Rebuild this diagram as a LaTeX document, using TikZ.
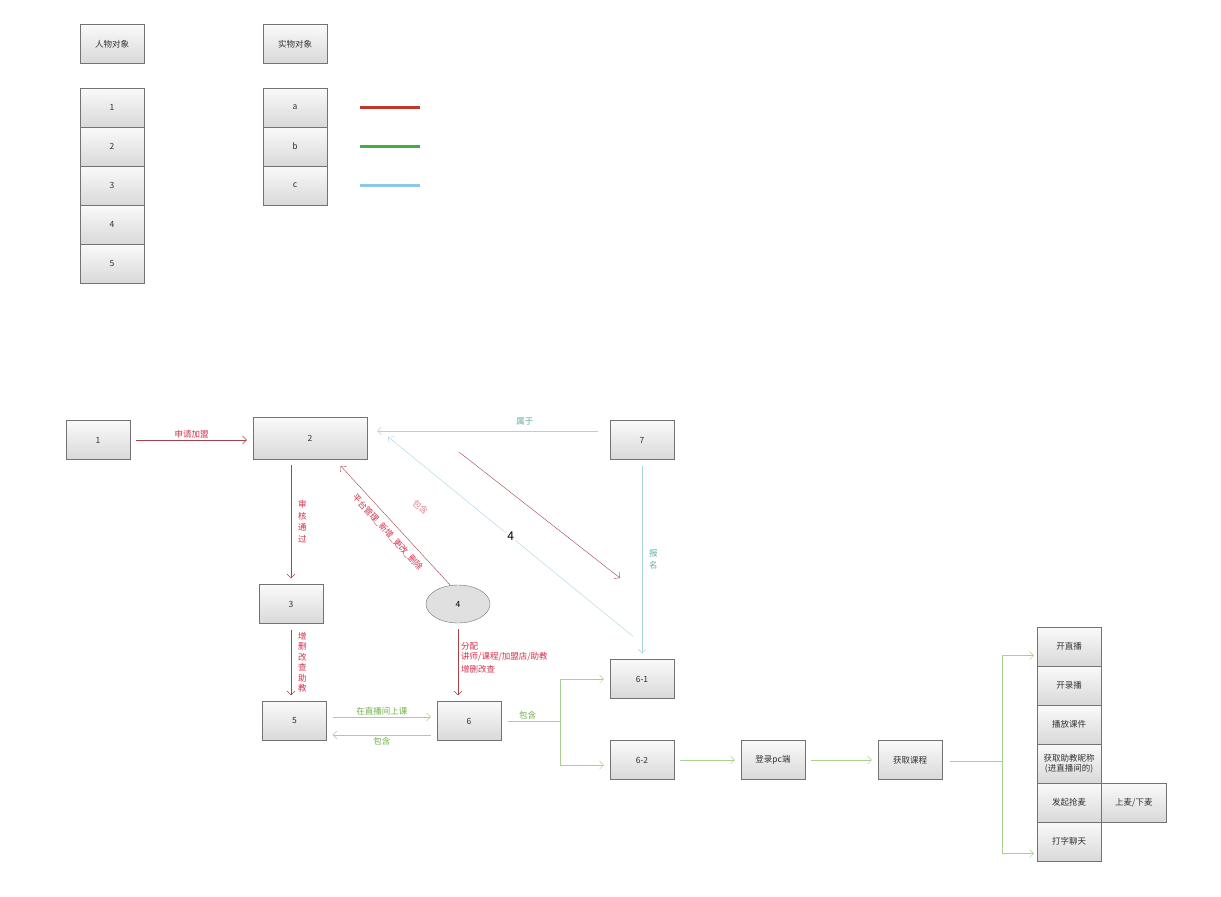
\documentclass[tikz,border=0pt]{standalone}
\usepackage{fontspec}
\setmainfont{Noto Sans CJK SC}
\usetikzlibrary{positioning,shapes.geometric,arrows.meta}
\definecolor{lnred}{HTML}{A5424C}
\definecolor{txred}{HTML}{D4304A}
\definecolor{txpink}{HTML}{D98590}
\definecolor{lngrn}{HTML}{A9D08E}
\definecolor{txgrn}{HTML}{6DB33F}
\definecolor{lnblue}{HTML}{A9D4E6}
\definecolor{txteal}{HTML}{5FAFA5}
\definecolor{legred}{HTML}{C0392B}
\definecolor{leggrn}{HTML}{3CB043}
\definecolor{legblue}{HTML}{8CC8E8}

\begin{document}
\begin{tikzpicture}[
  x=1pt, y=-1pt,
  >={Straight Barb[length=4pt, width=8pt]},
  box/.style={
    draw=black!55, top color=black!2, bottom color=black!15,
    minimum width=64pt, minimum height=39pt,
    inner sep=1pt, text=black!80, align=center,
    font=\fontsize{8.5}{10}\selectfont
  },
  oval/.style={draw=black!55, ellipse, fill=black!12,
    minimum width=64pt, minimum height=38pt, font=\fontsize{8.5}{10}\selectfont},
  lbl/.style={font=\fontsize{8.5}{10}\selectfont, inner sep=2pt},
  vlbl/.style={lbl, align=center, font=\fontsize{8.5}{11.5}\selectfont},
  redarr/.style={->, lnred, shorten <=6pt, shorten >=6pt},
  grnarr/.style={->, lngrn, shorten <=6pt, shorten >=6pt},
  bluarr/.style={->, lnblue, shorten <=6pt, shorten >=6pt}
]
\fill[white] (0,0) rectangle (1221,897);
\useasboundingbox (0,0) rectangle (1221,897);

% --- Legend ---
\node[box] (person) at (112,44) {人物对象};
\node[box] (thing) at (295,44) {实物对象};

\foreach \t [count=\i] in {1,2,3,4,5}
  \node[box] (p\i) at (112,{107.5+39*(\i-1)}) {\t};

\foreach \t [count=\i] in {a,b,c}
  \node[box] (o\i) at (295,{107.5+39*(\i-1)}) {\t};

\draw[line width=3pt, legred] (360,107) -- (420,107);
\draw[line width=3pt, leggrn] (360,146) -- (420,146);
\draw[line width=3pt, legblue] (360,185) -- (420,185);

% --- Flow ---
\node[box] (n1) at (98,440) {1};
\node[box, minimum width=114pt, minimum height=42pt] (n2) at (310,438) {2};
\node[box] (n7) at (642,440) {7};
\node[box] (n3) at (291,604) {3};
\node[oval] (n4) at (458,604) {4};
\node[box] (n5) at (294.5,721) {5};
\node[box] (n6) at (469,721) {6};
\node[box] (n61) at (642,679) {6-1};
\node[box] (n62) at (642,760) {6-2};
\node[box] (login) at (773,760) {登录pc端};
\node[box] (getc) at (910,760) {获取课程};

\foreach \t [count=\i] in {开直播,开录播,播放课件,{获取助教昵称\\(进直播间的)},发起抢麦,打字聊天}
  \node[box] (r\i) at (1069,{646.5+39*(\i-1)}) {\t};
\node[box, minimum width=65pt, right=0pt of r5] (mic) {上麦/下麦};

\coordinate (sp6) at (560,721);
\coordinate (spg) at (1002,761);
\coordinate (ra) at (459,452);
\coordinate (rb) at (620,578);

% red
\draw[redarr] (n1.east) -- node[lbl, above, text=txred] {申请加盟} (n1.east -| n2.west);
\draw[redarr] (n3.north |- n2.south) -- node[vlbl, right=5pt, text=txred] {审\\核\\通\\过} (n3.north);
\draw[redarr] (n3.south) -- node[vlbl, right=5pt, text=txred, font=\fontsize{8.5}{10.5}\selectfont]
  {增\\删\\改\\查\\助\\教} (n3.south |- n5.north);
\draw[->, lnred, shorten >=1pt] (n4.112) -- node[lbl, sloped, below=4pt, text=txred]
  {平台管理\_新增\_更改\_删除} ([shift={(30,6)}]n2.south);
\draw[redarr] (n4.south) -- (n4.south |- n6.north);
\node[lbl, anchor=north west, align=left, text=txred] (assign) at (459,640)
  {分配\\讲师/课程/加盟店/助教\\[3pt]增删改查};
\draw[->, lnred] (ra) -- (rb);

% green
\draw[grnarr] ([shift={(0,-4)}]n5.east) -- node[lbl, above, text=txgrn] {在直播间上课} ([shift={(0,-4)}]n5.east -| n6.west);
\draw[grnarr] ([shift={(0,14)}]n6.west) -- node[lbl, below, text=txgrn] {包含} ([shift={(0,14)}]n6.west -| n5.east);
\draw[lngrn, shorten <=7pt] (n6.east) -- node[lbl, above, pos=0.45, text=txgrn] {包含} (sp6);
\draw[->, lngrn, shorten >=6pt] (sp6) |- (n61.west);
\draw[->, lngrn, shorten >=6pt] (sp6) |- ([shift={(0,5)}]n62.west);
\draw[grnarr] (n62) -- (login);
\draw[grnarr] (login) -- (getc);
\draw[lngrn, shorten <=8pt] (getc.east |- spg) -- (spg);
\draw[->, lngrn, shorten >=3pt] (spg) |- ([shift={(0,9)}]r1.west);
\draw[->, lngrn, shorten >=3pt] (spg) |- ([shift={(0,12)}]r6.west);

% blue
\draw[->, lnblue, shorten <=12pt, shorten >=10pt] ([shift={(0,-9)}]n7.west) --
  node[lbl, above=4pt, pos=0.35, text=txteal] {属于} ([shift={(0,-9)}]n7.west -| n2.east);
\draw[bluarr] (n7.south) -- node[vlbl, right=5pt, text=txteal] {报\\名} (n61.north);
\draw[->, lnblue] ([shift={(-9,-23)}]n61.north) --
  node[pos=0.5, fill=white, inner sep=1pt, text=black, font=\large] {4}
  node[lbl, sloped, below=28pt, pos=0.78, text=txpink] {包含}
  ([shift={(21,-1)}]n2.east);

\end{tikzpicture}
\end{document}
